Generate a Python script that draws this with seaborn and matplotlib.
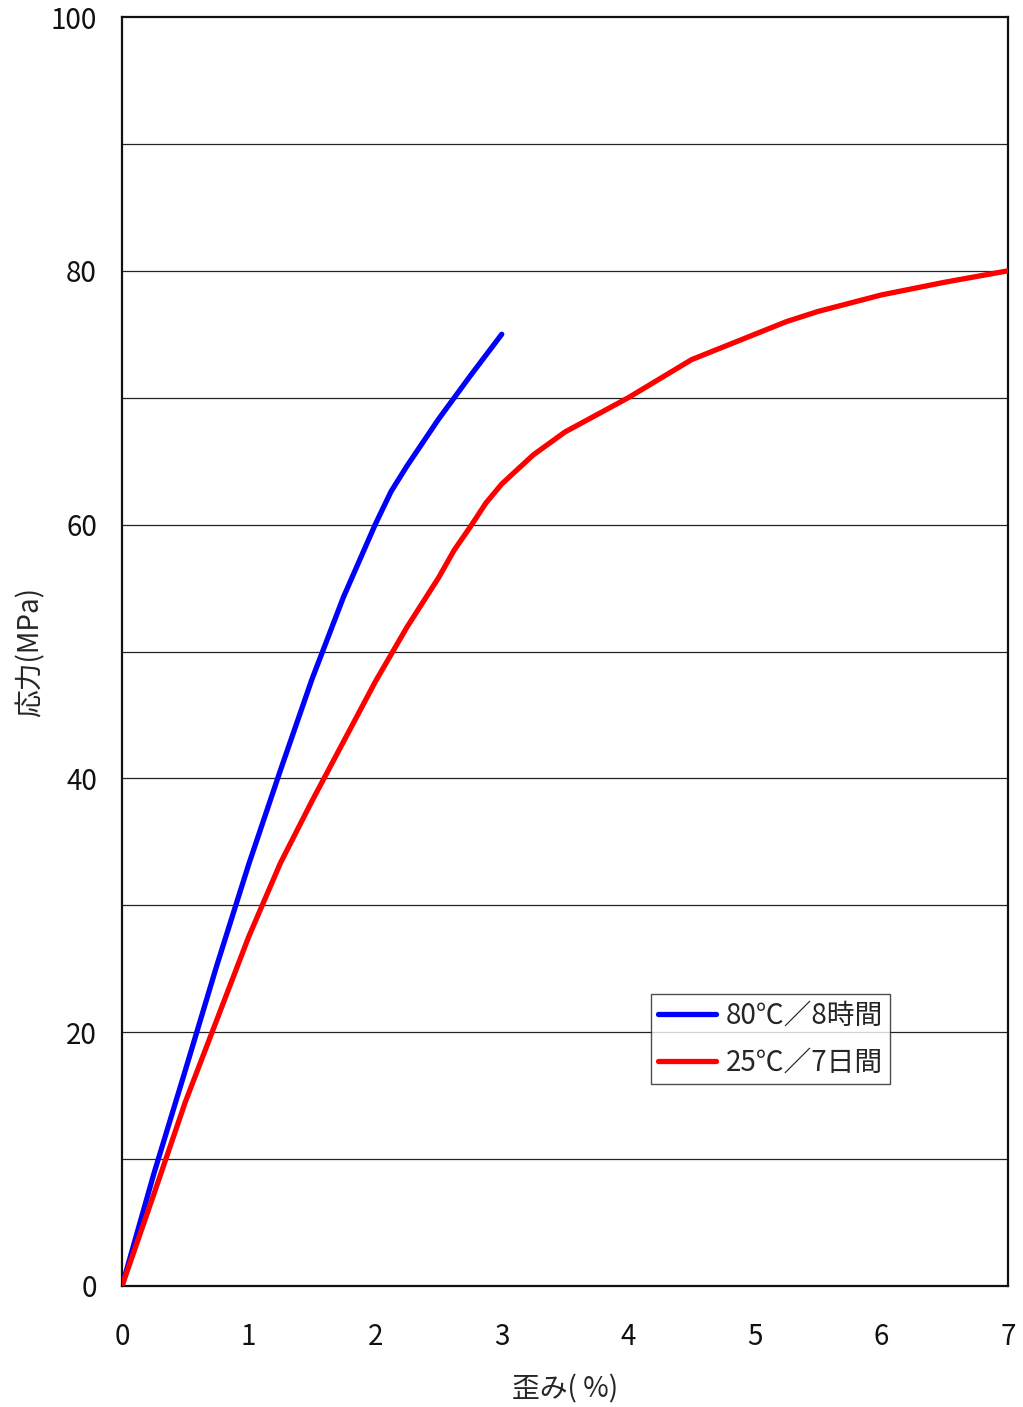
import pandas as pd
import matplotlib
matplotlib.use("Agg")
import matplotlib.pyplot as plt
import seaborn as sns

# Data
strain_80c = [0, 0.25, 0.5, 0.75, 1.0, 1.25, 1.5, 1.75, 2.0, 2.125, 2.25, 2.5, 2.75, 3.0]
stress_80c = [0, 8.8, 17.0, 25.3, 33.2, 40.6, 47.8, 54.3, 60.0, 62.6, 64.6, 68.3, 71.7, 75.0]

strain_25c = [0, 0.25, 0.5, 0.75, 1.0, 1.25, 1.5, 1.75, 2.0, 2.25, 2.5, 2.625,
              2.75, 2.875, 3.0, 3.25, 3.5, 4.0, 4.25, 4.5, 5.0, 5.25, 5.5, 6.0, 6.5, 7.0]
stress_25c = [0, 7.2, 14.5, 21.0, 27.5, 33.3, 38.2, 42.9, 47.6, 51.9, 55.8, 58.0,
              59.8, 61.7, 63.2, 65.5, 67.3, 70.0, 71.5, 73.0, 75.0, 76.0, 76.8, 78.1, 79.1, 80.0]

series_names = ["80℃／8時間", "25℃／7日間"]
series_colors = ["#0000ff", "#ff0000"]
x_ticks = [0, 1, 2, 3, 4, 5, 6, 7]
y_ticks = [0, 20, 40, 60, 80, 100]

df = pd.concat([
    pd.DataFrame({"strain": strain_80c, "stress": stress_80c, "series": series_names[0]}),
    pd.DataFrame({"strain": strain_25c, "stress": stress_25c, "series": series_names[1]}),
])

sns.set_style("white")
plt.rcParams["font.family"] = ["Noto Sans CJK JP", "DejaVu Sans"]

fig = plt.figure(figsize=(10.23, 14.07), dpi=100)
ax = fig.add_axes([0.1193, 0.086, 0.8660, 0.9019])

# horizontal grid every 10
for v in range(10, 100, 10):
    ax.axhline(v, color="#222222", lw=0.9, zorder=1)

sns.lineplot(data=df, x="strain", y="stress", hue="series", palette=series_colors,
             sort=False, estimator=None, lw=3.8, ax=ax, zorder=3,
             solid_capstyle="round", solid_joinstyle="round")

ax.set_xlim(0, 7)
ax.set_ylim(0, 100)
ax.set_xticks(x_ticks)
ax.set_yticks(y_ticks)
ax.tick_params(axis="both", direction="in", length=8, width=1, color="#222222",
               labelsize=20, colors="#111111")
ax.tick_params(axis="x", pad=26)
ax.tick_params(axis="y", pad=18)
for s in ax.spines.values():
    s.set_linewidth(1.6)
    s.set_color("#111111")

ax.set_xlabel("歪み( %)", fontsize=20, labelpad=16)
ax.set_ylabel("応力(MPa)", fontsize=20, labelpad=4)

handles, labels = ax.get_legend_handles_labels()
leg = ax.legend(handles, labels, loc="lower left", bbox_to_anchor=(0.597, 0.159),
                fontsize=20, frameon=True, fancybox=False, edgecolor="#222222",
                handlelength=2.1, handletextpad=0.35, borderpad=0.25, labelspacing=0.6,
                borderaxespad=0)
leg.get_frame().set_linewidth(1.0)
for line in leg.get_lines():
    line.set_linewidth(3.8)

fig.savefig("out.png", dpi=100, facecolor="white")
